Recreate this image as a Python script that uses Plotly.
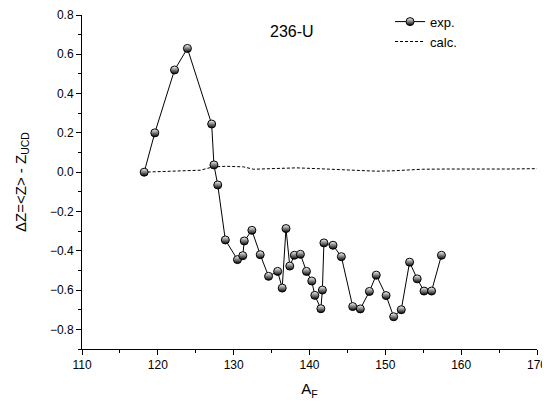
import plotly.graph_objects as go

exp_A = [118.2, 119.6, 122.2, 123.9, 127.1, 127.4, 127.9, 128.9, 130.5, 131.2, 131.4,
         132.4, 133.5, 134.6, 135.8, 136.4, 136.9, 137.4, 138.0, 138.8, 139.6, 140.3,
         140.7, 141.5, 141.7, 141.9, 143.1, 144.2, 145.7, 146.7, 147.9, 148.8, 150.1,
         151.1, 152.1, 153.2, 154.2, 155.1, 156.1, 157.4]
exp_dZ = [0.00, 0.20, 0.52, 0.63, 0.245, 0.037, -0.065, -0.345, -0.445, -0.425, -0.35,
          -0.296, -0.42, -0.53, -0.505, -0.59, -0.287, -0.478, -0.423, -0.418, -0.505, -0.554,
          -0.627, -0.695, -0.60, -0.36, -0.372, -0.43, -0.684, -0.696, -0.607, -0.524, -0.628,
          -0.736, -0.70, -0.458, -0.543, -0.605, -0.605, -0.423]

calc_A = [118, 121, 124, 125.6, 127.3, 129, 131.3, 132.6, 135, 138.3, 141, 144, 146,
          148.8, 151, 153, 154.9, 158, 162, 166, 170]
calc_dZ = [0.0, 0.004, 0.008, 0.01, 0.027, 0.03, 0.027, 0.015, 0.018, 0.022, 0.018, 0.012,
           0.008, 0.005, 0.007, 0.012, 0.015, 0.016, 0.015, 0.016, 0.018]

FONT = "Liberation Sans, Arial, sans-serif"

fig = go.Figure()
fig.add_trace(go.Scatter(
    x=calc_A, y=calc_dZ, mode="lines", name="calc.",
    line=dict(color="black", width=1, dash="3px,2px"),
))
fig.add_trace(go.Scatter(
    x=exp_A, y=exp_dZ, mode="lines+markers", name="exp.",
    line=dict(color="black", width=1),
    marker=dict(symbol="circle", size=8, color="white",
                gradient=dict(type="vertical", color="black"),
                line=dict(color="black", width=1)),
))

fig.add_annotation(x=0.4615, y=0.95, xref="paper", yref="paper", text="236-U",
                   yanchor="middle", showarrow=False,
                   font=dict(size=16, color="black", family=FONT))

fig.update_layout(
    width=542, height=394,
    margin=dict(l=74, r=13, t=7, b=53, autoexpand=False),
    plot_bgcolor="white", paper_bgcolor="white",
    font=dict(family=FONT, size=12, color="black"),
    showlegend=True,
    legend=dict(x=0.677, y=1.025, xanchor="left", yanchor="top", traceorder="reversed",
                bgcolor="rgba(0,0,0,0)", font=dict(size=13), tracegroupgap=0,
                itemwidth=30),
    xaxis=dict(range=[110, 170], dtick=10, tick0=110, showgrid=False, zeroline=False,
               showline=True, linecolor="black", linewidth=1, ticks="outside",
               ticklen=5, tickcolor="black", automargin=False, ticklabeloverflow="allow",
               minor=dict(dtick=5, ticks="outside", ticklen=3, tickcolor="black"),
               title=dict(text="A<sub>F</sub>", font=dict(size=15), standoff=12)),
    yaxis=dict(range=[-0.9, 0.8], dtick=0.2, tick0=0, tickformat=".1f", showgrid=False,
               zeroline=False, showline=True, linecolor="black", linewidth=1,
               ticks="outside", ticklen=5, tickcolor="black", automargin=False,
               minor=dict(dtick=0.1, ticks="outside", ticklen=3, tickcolor="black"),
               title=dict(text="ΔZ=&lt;Z&gt; - Z<sub>UCD</sub>", font=dict(size=15), standoff=19)),
)

fig.write_html("out.html")
